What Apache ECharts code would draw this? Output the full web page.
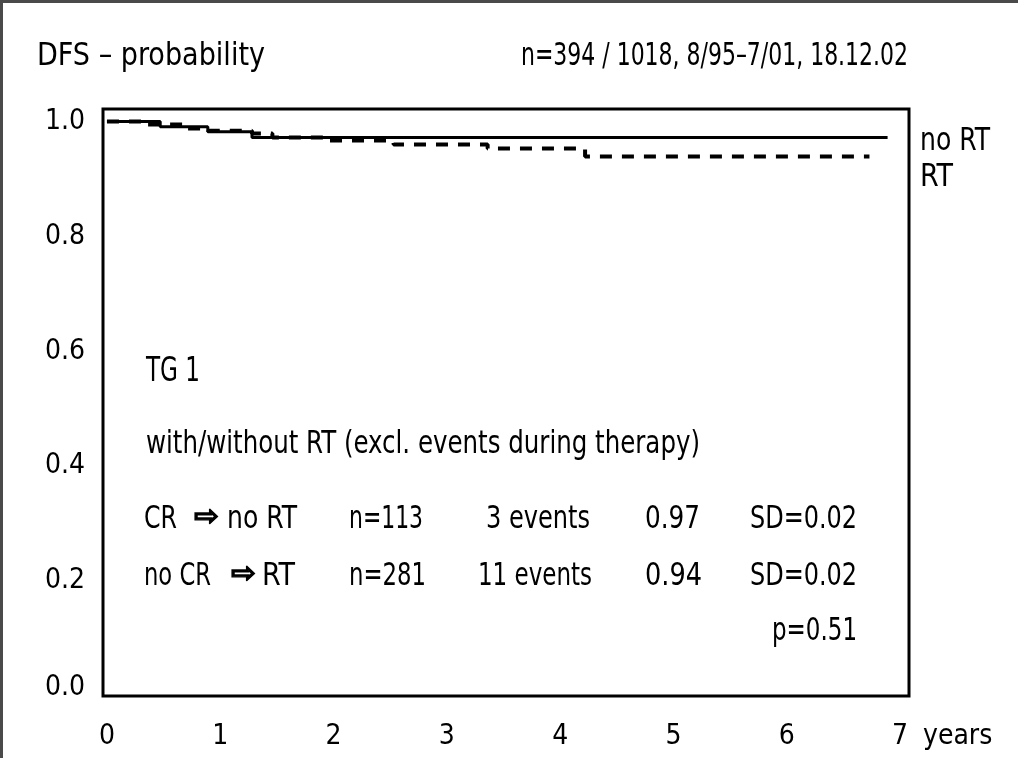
<!DOCTYPE html>
<html>
<head>
<meta charset="utf-8">
<script src="https://cdn.jsdelivr.net/npm/echarts@6/dist/echarts.min.js"></script>
<style>
html,body{margin:0;padding:0;background:#fff;}
#main{width:1018px;height:758px;}
</style>
</head>
<body>
<div id="main"></div>
<script>
// ---- data ----
const xTicks = [0, 1, 2, 3, 4, 5, 6, 7];
const yTicks = [0, 0.2, 0.4, 0.6, 0.8, 1.0];
const noRTTimes = [0, 0.47, 0.89, 1.28, 6.89];
const noRTSurv  = [1.0, 0.991, 0.982, 0.972, 0.972];
const rtTimes = [0, 0.35, 0.70, 0.89, 1.28, 1.46, 1.92, 2.53, 3.36, 4.22, 6.73];
const rtSurv  = [1.0, 0.995, 0.988, 0.984, 0.979, 0.972, 0.967, 0.960, 0.953, 0.939, 0.939];
const curveNames = ['no RT', 'RT'];
const groupFrom = ['CR', 'no CR'];
const groupTo = ['no RT', 'RT'];
const groupN = [113, 281];
const groupEvents = [3, 11];
const groupEstimate = ['0.97', '0.94'];
const groupSD = ['0.02', '0.02'];
const pValue = '0.51';
const titleText = 'DFS – probability';
const headerText = 'n=394 / 1018, 8/95–7/01, 18.12.02';
const groupTitle = 'TG 1';
const subTitle = 'with/without RT (excl. events during therapy)';
const arrowGlyph = '⇨';

const FONT = '"Liberation Sans Narrow", "DejaVu Sans Condensed", sans-serif';
const FS = 32;
const TICK_FS = 28;

function zip(a, b) { return a.map((v, i) => [v, b[i]]); }

const ctx = document.createElement('canvas').getContext('2d');
function measure(str, font) { ctx.font = font; return ctx.measureText(str).width; }

// text fitted horizontally to a target width (condensed look of the original)
function fitText(str, x, y, w, align, size, weight, family, extra) {
  const font = (weight ? weight + ' ' : '') + size + 'px ' + (family || FONT);
  const sx = w / measure(str, font);
  const style = Object.assign({ text: str, font: font, fill: '#000', align: align, verticalAlign: 'middle' }, extra || {});
  return { type: 'text', x: x, y: y, scaleX: sx, silent: true, style: style };
}

const graphics = [
  { type: 'rect', shape: { x: 0, y: 0, width: 1018, height: 3 }, style: { fill: '#4a4a4a' }, silent: true },
  { type: 'rect', shape: { x: 0, y: 0, width: 3, height: 758 }, style: { fill: '#4a4a4a' }, silent: true },
  fitText(titleText, 37, 57, 228, 'left', FS),
  fitText(headerText, 908, 57, 387, 'right', FS),
  fitText(curveNames[0], 920, 142, 70, 'left', FS),
  fitText(curveNames[1], 920, 178, 33, 'left', FS),
  fitText(groupTitle, 146, 372, 54, 'left', 34),
  fitText(subTitle, 146, 445, 554, 'left', FS)
];
const rowY = [520, 577];
const fromW = [33, 67];
const arrowX = [194, 231];
const toX = [227, 262];
const toW = [70, 33];
const nW = [74, 77];
const eventsW = [104, 114];
const eventsR = [590, 592];
const estW = [55, 57];
for (let i = 0; i < 2; i++) {
  const y = rowY[i];
  graphics.push(fitText(groupFrom[i], 144, y, fromW[i], 'left', FS));
  graphics.push(fitText(arrowGlyph, arrowX[i], y - 2, 25, 'left', 28, 'bold', 'DejaVu Sans',
    { stroke: '#000', lineWidth: 1.2 }));
  graphics.push(fitText(groupTo[i], toX[i], y, toW[i], 'left', FS));
  graphics.push(fitText('n=' + groupN[i], 349, y, nW[i], 'left', FS));
  graphics.push(fitText(groupEvents[i] + ' events', eventsR[i], y, eventsW[i], 'right', FS));
  graphics.push(fitText(groupEstimate[i], 645, y, estW[i], 'left', FS));
  graphics.push(fitText('SD=' + groupSD[i], 857, y, 107, 'right', FS));
}
graphics.push(fitText('p=' + pValue, 857, 632, 85, 'right', FS));

const chart = echarts.init(document.getElementById('main'));
chart.setOption({
  backgroundColor: '#fff',
  animation: false,
  grid: { left: 103, top: 109, width: 806, height: 587, show: true, borderColor: '#000', borderWidth: 3, backgroundColor: 'transparent' },
  xAxis: {
    type: 'value', min: -0.035, max: 7.079,
    axisLine: { show: false }, axisTick: { show: false }, splitLine: { show: false },
    axisLabel: { customValues: xTicks, formatter: v => String(v), color: '#000', fontFamily: FONT, fontSize: TICK_FS, margin: 27 },
    name: 'years', nameLocation: 'end', nameGap: 14,
    nameTextStyle: { color: '#000', fontFamily: FONT, fontSize: TICK_FS, align: 'left', verticalAlign: 'top', padding: [27, 0, 0, 0] }
  },
  yAxis: {
    type: 'value', min: 0, max: 1.0218,
    axisLine: { show: false }, axisTick: { show: false }, splitLine: { show: false },
    axisLabel: {
      customValues: yTicks,
      formatter: v => (v === 0 ? '{m|' + v.toFixed(1) + '}' : v.toFixed(1)),
      color: '#000', fontFamily: FONT, fontSize: TICK_FS, margin: 18,
      rich: { m: { color: '#000', fontFamily: FONT, fontSize: TICK_FS, padding: [0, 0, 16, 0] } }
    }
  },
  series: [
    { name: curveNames[1], type: 'line', step: 'end', showSymbol: false, data: zip(rtTimes, rtSurv),
      lineStyle: { color: '#000', width: 4, type: [12, 10] }, z: 2 },
    { name: curveNames[0], type: 'line', step: 'end', showSymbol: false, data: zip(noRTTimes, noRTSurv),
      lineStyle: { color: '#000', width: 3 }, z: 3 }
  ],
  graphic: graphics
});
</script>
</body>
</html>
